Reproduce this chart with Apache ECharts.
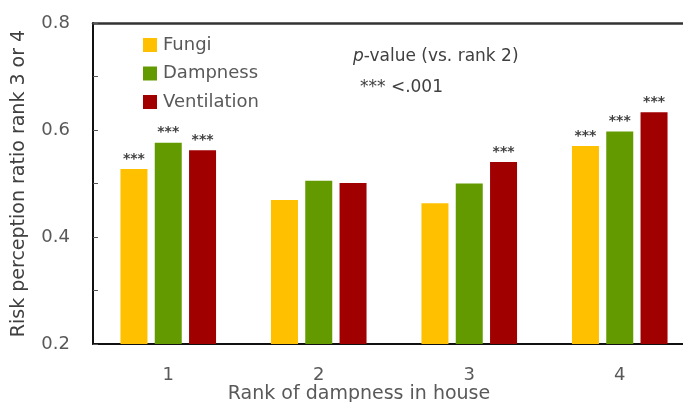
<!DOCTYPE html>
<html>
<head>
<meta charset="utf-8">
<script src="https://cdn.jsdelivr.net/npm/echarts@6/dist/echarts.min.js"></script>
<style>
  html, body { margin: 0; padding: 0; background: #fff; }
  #chart { width: 683px; height: 402px; }
</style>
</head>
<body>
<div id="chart"></div>
<script>
// Rank of dampness categories
const ranks = ['1', '2', '3', '4'];

// Risk perception ratio (rank 3 or 4) per factor
const fungi       = [0.527, 0.469, 0.463, 0.570];
const dampness    = [0.576, 0.505, 0.500, 0.597];
const ventilation = [0.562, 0.501, 0.540, 0.633];

// Significance markers vs. rank 2
const fungiSig       = ['***', '', '', '***'];
const dampnessSig    = ['***', '', '', '***'];
const ventilationSig = ['***', '', '***', '***'];

const yTickLabels = ['0.2', '0.4', '0.6', '0.8'];

const FONT = 'DejaVu Sans';
const GRAY = '#595959';
const DARK = '#404040';

function makeSeries(name, values, marks, color) {
  return {
    name: name,
    type: 'bar',
    barWidth: 27,
    barGap: '27%',
    itemStyle: { color: color },
    data: values.map((v, i) => ({ value: v, sig: marks[i] })),
    label: {
      show: true,
      position: 'top',
      distance: 3,
      color: DARK,
      fontFamily: FONT,
      fontSize: 14,
      fontWeight: 'bold',
      formatter: p => p.data.sig
    }
  };
}

const chart = echarts.init(document.getElementById('chart'));
chart.setOption({
  animation: false,
  backgroundColor: '#fff',
  textStyle: { fontFamily: FONT },
  grid: { left: 93, right: -12, top: 23, bottom: 58, containLabel: false, outerBoundsMode: 'none' },
  legend: {
    orient: 'vertical',
    left: 143,
    top: 36,
    padding: 0,
    itemWidth: 14,
    itemHeight: 14,
    itemGap: 10.5,
    icon: 'rect',
    textStyle: { color: GRAY, fontFamily: FONT, fontSize: 18, lineHeight: 18, padding: [0, 0, 0, 1] },
    data: ['Fungi', 'Dampness', 'Ventilation']
  },
  graphic: [
    {
      type: 'text',
      x: 353,
      y: 57,
      style: {
        text: '{i|p}-value (vs. rank 2)',
        fill: DARK,
        font: '17px "DejaVu Sans"',
        verticalAlign: 'middle',
        rich: { i: { fontStyle: 'italic', fontFamily: FONT, fontSize: 17, fill: DARK } }
      }
    },
    {
      type: 'text',
      x: 360,
      y: 88,
      style: { text: '*** <.001', fill: DARK, font: '17px "DejaVu Sans"', verticalAlign: 'middle' }
    },
    {
      type: 'text',
      x: 359,
      y: 394,
      style: {
        text: 'Rank of dampness in house',
        fill: GRAY,
        font: '19px "DejaVu Sans"',
        align: 'center',
        verticalAlign: 'middle'
      }
    }
  ],
  xAxis: [
    {
      type: 'category',
      data: ranks,
      axisLine: { lineStyle: { color: '#111', width: 2 } },
      axisTick: { show: false },
      axisLabel: { color: GRAY, fontFamily: FONT, fontSize: 18, margin: 22 }
    },
    {
      type: 'category',
      position: 'top',
      data: ranks,
      axisLine: { lineStyle: { color: '#333', width: 2.5 } },
      axisTick: { show: false },
      axisLabel: { show: false }
    }
  ],
  yAxis: {
    type: 'value',
    min: 0.2,
    max: 0.8,
    interval: 0.1,
    name: 'Risk perception ratio rank 3 or 4',
    nameLocation: 'middle',
    nameGap: 64,
    nameTextStyle: { color: DARK, fontFamily: FONT, fontSize: 19 },
    axisLine: { show: true, lineStyle: { color: '#111', width: 2 } },
    axisTick: { show: true, inside: true, length: 5, lineStyle: { color: '#555' } },
    splitLine: { show: false },
    axisLabel: {
      color: GRAY,
      fontFamily: FONT,
      fontSize: 18,
      margin: 23,
      formatter: v => {
        const s = v.toFixed(1);
        return yTickLabels.includes(s) ? s : '';
      }
    }
  },
  series: [
    makeSeries('Fungi', fungi, fungiSig, '#FFC000'),
    makeSeries('Dampness', dampness, dampnessSig, '#639A00'),
    makeSeries('Ventilation', ventilation, ventilationSig, '#A00000')
  ]
});
</script>
</body>
</html>
